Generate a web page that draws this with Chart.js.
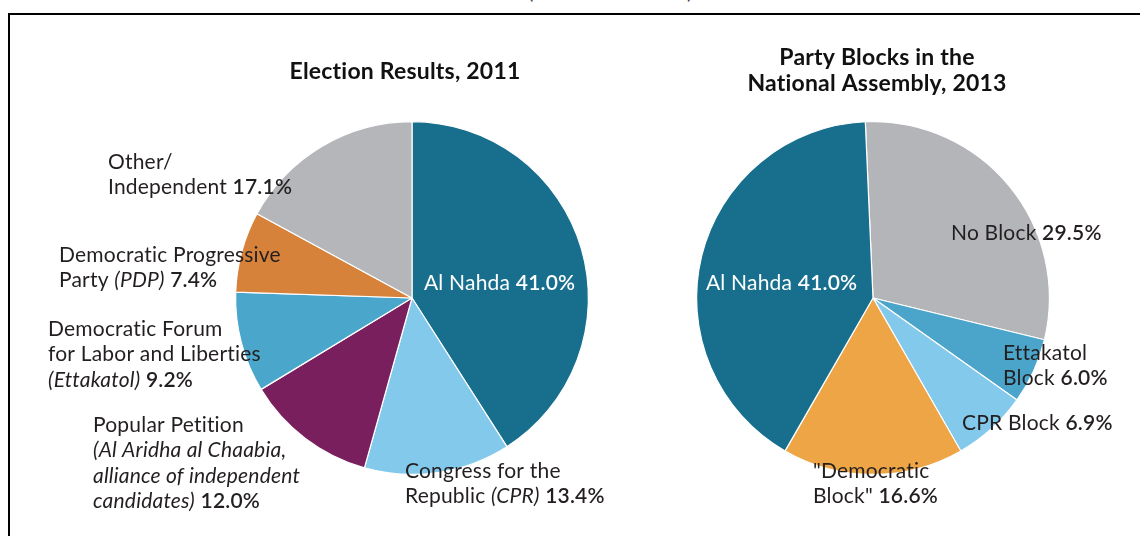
<!DOCTYPE html>
<html>
<head>
<meta charset="utf-8">
<script src="https://cdn.jsdelivr.net/npm/chart.js@4.4.1/dist/chart.umd.min.js"></script>
<style>
  html, body { margin: 0; padding: 0; background: #fff; }
  body { width: 1140px; height: 536px; position: relative; overflow: hidden; font-family: Lato, sans-serif; }
  #frame { position: absolute; left: 8px; top: 13px; width: 1200px; height: 600px;
           border-top: 2px solid #000; border-left: 2px solid #000; }
  #parens { position: absolute; top: -21px; left: 528px; font: 20px Lato; color: #444; white-space: pre; }
  #leftPie { position: absolute; left: 0; top: 0; }
  #rightPie { position: absolute; left: 600px; top: 0; }
</style>
</head>
<body>
<div id="frame"></div>
<div id="parens">(                              )</div>
<canvas id="leftPie" width="640" height="536"></canvas>
<canvas id="rightPie" width="540" height="536"></canvas>

<script>
// data
const leftTitle = ["Election Results, 2011"];
const leftCategories = ["Al Nahda", "Congress for the Republic (CPR)", "Popular Petition",
  "Democratic Forum for Labor and Liberties (Ettakatol)", "Democratic Progressive Party (PDP)", "Other/Independent"];
const leftValues = [41.0, 13.4, 12.0, 9.2, 7.4, 17.1];

const rightTitle = ["Party Blocks in the", "National Assembly, 2013"];
const rightCategories = ["No Block", "Ettakatol Block", "CPR Block", "\"Democratic Block\"", "Al Nahda"];
const rightValues = [29.5, 6.0, 6.9, 16.6, 41.0];

// label text as drawn (_x_ = italic); the value is added to the last line
const leftLabelLines = [
  ["Al Nahda "],
  ["Congress for the", "Republic _(CPR)_ "],
  ["Popular Petition", "_(Al Aridha al Chaabia,_", "_alliance of independent_", "_candidates)_ "],
  ["Democratic Forum", "for Labor and Liberties", "_(Ettakatol)_ "],
  ["Democratic Progressive", "Party _(PDP)_ "],
  ["Other/", "Independent "]
];
const rightLabelLines = [
  ["No Block "],
  ["Ettakatol", "Block "],
  ["CPR Block "],
  ["\"Democratic", "Block\" "],
  ["Al Nahda "]
];

const leftColors = ["#176f8d", "#82c9eb", "#7a1f5d", "#4ba6cb", "#d6823a", "#b4b6b9"];
const rightColors = ["#b3b5b8", "#4ba4c9", "#82c9eb", "#eea545", "#176f8d"];

// label placement relative to pie centre
const leftLabelPos = [
  { dx: 12, dy: -15, color: "#fff" },
  { dx: -7, dy: 173, color: "#231f20" },
  { dx: -319, dy: 127, color: "#231f20" },
  { dx: -364, dy: 31, color: "#231f20" },
  { dx: -353, dy: -43, color: "#231f20" },
  { dx: -304, dy: -136, color: "#231f20" }
];
const rightLabelPos = [
  { dx: 78, dy: -65, color: "#231f20" },
  { dx: 130, dy: 55, color: "#231f20" },
  { dx: 89, dy: 125, color: "#231f20" },
  { dx: -60, dy: 173, color: "#231f20" },
  { dx: -167, dy: -15, color: "#fff" }
];

const FONT = "Lato";
const SIZE = 21;
const LINE = 25.5;

const sliceLabels = {
  id: "sliceLabels",
  afterDatasetsDraw(chart, args, opts) {
    const arc = chart.getDatasetMeta(0).data[0];
    const cx = arc.x, cy = arc.y;
    const ctx = chart.ctx;
    ctx.save();
    ctx.textBaseline = "middle";
    ctx.letterSpacing = "0.2px"; // also stops the "ti" ligature

    ctx.fillStyle = "#111";
    ctx.textAlign = "center";
    ctx.font = `bold 23px ${FONT}`;
    opts.title.forEach((t, i) => ctx.fillText(t, cx + opts.titleDx, cy + opts.titleDy + i * 26));

    ctx.textAlign = "left";
    opts.lines.forEach((lines, k) => {
      const pos = opts.pos[k];
      const val = chart.data.datasets[0].data[k];
      ctx.fillStyle = pos.color;
      lines.forEach((line, j) => {
        let x = cx + pos.dx;
        const y = cy + pos.dy + j * LINE;
        line.split("_").forEach((part, p) => {
          if (!part) return;
          ctx.font = (p % 2 ? "italic " : "") + `400 ${SIZE}px ${FONT}`;
          ctx.fillText(part, x, y);
          x += ctx.measureText(part).width;
        });
        if (j === lines.length - 1) {
          ctx.font = `600 ${SIZE}px ${FONT}`;
          ctx.fillText(val.toFixed(1) + "%", x, y);
        }
      });
    });
    ctx.restore();
  }
};

function makePie(id, labels, values, colors, rotation, padding, labelOpts) {
  return new Chart(document.getElementById(id), {
    type: "pie",
    data: {
      labels: labels,
      datasets: [{
        data: values,
        backgroundColor: colors,
        borderColor: "#fff",
        borderWidth: 1.2
      }]
    },
    options: {
      responsive: false,
      animation: false,
      events: [],
      rotation: rotation,
      layout: { padding: padding },
      plugins: {
        legend: { display: false },
        tooltip: { enabled: false },
        sliceLabels: labelOpts
      }
    },
    plugins: [sliceLabels]
  });
}

function draw() {
  makePie("leftPie", leftCategories, leftValues, leftColors, 0,
    { left: 235, right: 51, top: 121, bottom: 61 },
    { title: leftTitle, titleDx: -7, titleDy: -226, lines: leftLabelLines, pos: leftLabelPos });
  makePie("rightPie", rightCategories, rightValues, rightColors, -2.5,
    { left: 96, right: 90, top: 121, bottom: 61 },
    { title: rightTitle, titleDx: 4, titleDy: -240, lines: rightLabelLines, pos: rightLabelPos });
}

Promise.all([
  document.fonts.load(`400 ${SIZE}px ${FONT}`),
  document.fonts.load(`italic 400 ${SIZE}px ${FONT}`),
  document.fonts.load(`bold 23px ${FONT}`)
]).catch(() => {}).then(draw);
</script>
</body>
</html>
